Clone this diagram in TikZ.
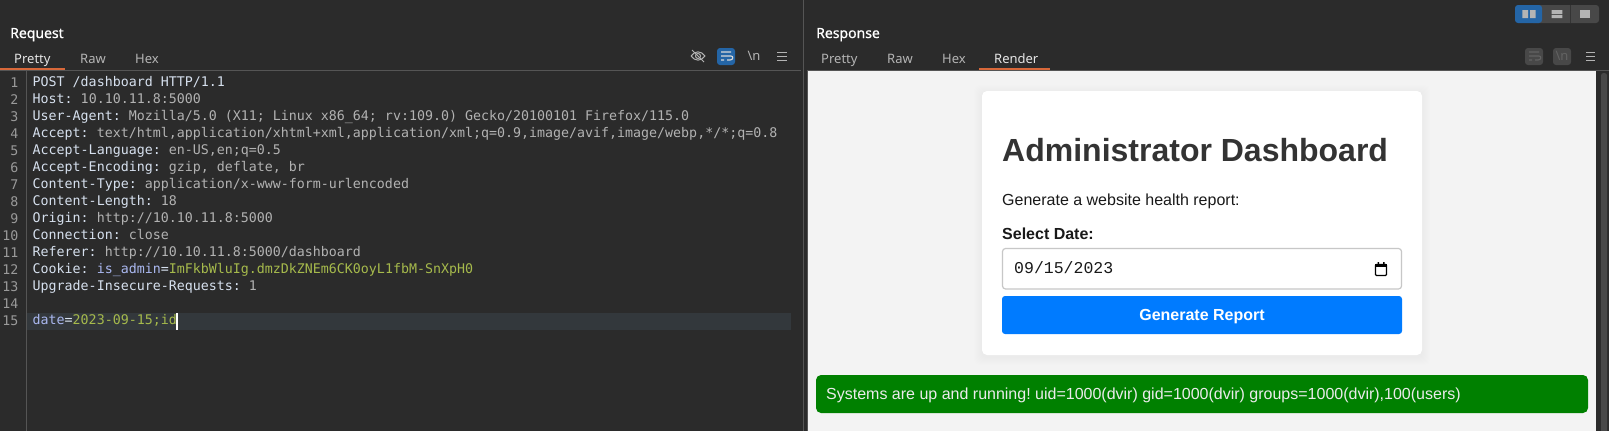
\documentclass[tikz,border=0pt]{standalone}
\usepackage{fontspec}
\setmainfont{Noto Sans}
\newfontfamily\titlefont{Noto Sans}[FakeBold=.6]
\newfontfamily\codefont{DejaVu Sans Mono}
\newfontfamily\pagefont{Liberation Sans}
\newfontfamily\datefont{Liberation Mono}
\newcommand{\hgap}{\kern.602em}
\frenchspacing
\definecolor{panelbg}{HTML}{2B2B2B}
\definecolor{rulegray}{HTML}{555555}
\definecolor{tabgray}{HTML}{B4B4B4}
\definecolor{tabline}{HTML}{D8683A}
\definecolor{numgray}{HTML}{9A9A9A}
\definecolor{hkey}{HTML}{D6E0EE}
\definecolor{hval}{HTML}{B2B2B2}
\definecolor{hname}{HTML}{AAB8F0}
\definecolor{hgreen}{HTML}{A6BA4C}
\definecolor{rowbg}{HTML}{33383C}
\definecolor{burpblue}{HTML}{2465A6}
\definecolor{btngray}{HTML}{484848}
\definecolor{pagebg}{HTML}{F3F3F3}
\definecolor{okgreen}{HTML}{008000}
\definecolor{btnblue}{HTML}{007BFF}
\tikzset{
  paneltitle/.style={anchor=base west,inner sep=0,text=white,font=\fontsize{14}{16}\titlefont\selectfont},
  tabtext/.style={anchor=base west,inner sep=0,text=tabgray,font=\fontsize{13}{16}\selectfont},
  codeline/.style={anchor=base west,inner sep=0,font=\fontsize{13.3}{16}\codefont\selectfont},
  codenum/.style={anchor=base east,inner sep=0,text=numgray,font=\fontsize{13.3}{16}\codefont\selectfont},
  pagetext/.style={anchor=base west,inner sep=0,text=black!90,font=\fontsize{16}{20}\pagefont\selectfont},
  iconline/.style={draw=tabgray,line width=1pt},
  iconbox/.style={rounded corners=3pt,fill=#1,draw=none}
}
\begin{document}
\begin{tikzpicture}[x=1pt,y=-1pt]
\useasboundingbox (0,0) rectangle (1609,431);
\fill[panelbg] (0,0) rectangle (1609,431);

% left pane
\node[paneltitle] (reqtitle) at (10,38) {Request};
\node[tabtext,text=white!90!black] (reqpretty) at (14,63) {Pretty};
\node[tabtext] (reqraw) at (80,63) {Raw};
\node[tabtext] (reqhex) at (135,63) {Hex};
\draw[rulegray] (0,70.5) -- (801,70.5);
\fill[tabline] (0,68) rectangle (65,70);
\draw[rulegray] (26.5,71) -- (26.5,431);
\fill[rowbg] (27,313) rectangle (791,330);

\foreach \n/\hline in {
  1/{\color{hkey}POST /dashboard HTTP/1.1},
  2/{\color{hkey}Host:\hgap\color{hval}10.10.11.8:5000},
  3/{\color{hkey}User-Agent:\hgap\color{hval}Mozilla/5.0 (X11; Linux x86\_64; rv:109.0) Gecko/20100101 Firefox/115.0},
  4/{\color{hkey}Accept:\hgap\color{hval}text/html,application/xhtml+xml,application/xml;q=0.9,image/avif,image/webp,*/*;q=0.8},
  5/{\color{hkey}Accept-Language:\hgap\color{hval}en-US,en;q=0.5},
  6/{\color{hkey}Accept-Encoding:\hgap\color{hval}gzip, deflate, br},
  7/{\color{hkey}Content-Type:\hgap\color{hval}application/x-www-form-urlencoded},
  8/{\color{hkey}Content-Length:\hgap\color{hval}18},
  9/{\color{hkey}Origin:\hgap\color{hval}http://10.10.11.8:5000},
  10/{\color{hkey}Connection:\hgap\color{hval}close},
  11/{\color{hkey}Referer:\hgap\color{hval}http://10.10.11.8:5000/dashboard},
  12/{\color{hkey}Cookie:\hgap\color{hname}is\_admin\color{hkey}=\color{hgreen}ImFkbWluIg.dmzDkZNEm6CK0oyL1fbM-SnXpH0},
  13/{\color{hkey}Upgrade-Insecure-Requests:\hgap\color{hval}1},
  14/{},
  15/{\color{hname}date\color{hkey}=\color{hgreen}2023-09-15;id}}
{
  \node[codenum] (num\n) at (18.5,{70+17*\n}) {\n};
  \node[codeline] (code\n) at (32.5,{69+17*\n}) {\hline};
}
\fill[white] (175.7,313) rectangle (177.7,330);

% left icons
\draw[iconline] (691,56) .. controls (695,50.5) and (701,50.5) .. (705,56) .. controls (701,61.5) and (695,61.5) .. (691,56);
\draw[iconline] (698,56) circle (2.5);
\draw[iconline] (692,50) -- (704,62);
\fill[burpblue,iconbox] (717,48) rectangle (735,65);
\draw[white!85!black,line width=1.1pt] (721,52) -- (731,52) (721,56) -- (731,56) .. controls (733.5,56) and (733.5,60) .. (730,60) -- (727,60) (721,60) -- (724,60);
\node[inner sep=0,text=tabgray,font=\fontsize{13}{16}\selectfont] (reqnl) at (754,55.5) {\textbackslash n};
\draw[iconline] (777,52) -- (787,52) (777,56) -- (787,56) (777,60) -- (787,60);

% right pane
\draw[rulegray,line width=1.2pt] (803.5,0) -- (803.5,431);
\node[paneltitle] (resptitle) at (816,38) {Response};
\node[tabtext] (resppretty) at (821,63) {Pretty};
\node[tabtext] (respraw) at (887,63) {Raw};
\node[tabtext] (resphex) at (942,63) {Hex};
\node[tabtext,text=white!90!black] (resprender) at (994,63) {Render};
\draw[rulegray] (807,70.5) -- (1609,70.5);
\fill[tabline] (979,68) rectangle (1050,70);
\fill[rulegray] (806.5,71) rectangle (808,431);

% layout buttons
\fill[btngray,rounded corners=3pt] (1530,5) rectangle (1599,23);
\fill[burpblue,rounded corners=3pt] (1515,5) rectangle (1542,23);
\draw[panelbg!70!btngray,line width=.6pt] (1570.5,5) -- (1570.5,23);
\fill[tabgray] (1522.3,10) rectangle (1528,18) (1530,10) rectangle (1535.7,18);
\fill[tabgray] (1551.7,10) rectangle (1562.3,14) (1551.7,15) rectangle (1562.3,18);
\fill[tabgray] (1580,10) rectangle (1590,18);

% right icons
\fill[btngray,iconbox] (1525,48) rectangle (1543,65);
\draw[black!45!tabgray,line width=1.1pt] (1529,52) -- (1539,52) (1529,56) -- (1539,56) .. controls (1541.5,56) and (1541.5,60) .. (1538,60) -- (1535,60) (1529,60) -- (1532,60);
\fill[btngray,iconbox] (1553,48) rectangle (1571,65);
\node[inner sep=0,text=black!45!tabgray,font=\fontsize{13}{16}\selectfont] (respnl) at (1562,55.5) {\textbackslash n};
\draw[iconline] (1586,52) -- (1595,52) (1586,56) -- (1595,56) (1586,60) -- (1595,60);

% rendered page
\fill[pagebg] (808,71) rectangle (1596,431);
\fill[panelbg] (1596,71) rectangle (1609,431);
\fill[btngray,rounded corners=2.5pt] (1601,73) rectangle (1607,440);

\foreach \s in {1,...,8}
  \fill[black,opacity=.005,rounded corners=5pt] ({982-\s},{91-\s+2}) rectangle ({1422+\s},{355+\s+2});
\fill[white,rounded corners=5pt] (982,91) rectangle (1422,355);

\node[pagetext,font=\fontsize{32}{38}\pagefont\bfseries\selectfont,text=black!80] (dashtitle) at (1002,161) {Administrator Dashboard};
\node[pagetext] (healthtext) at (1002,205) {Generate a website health report:};
\node[pagetext,font=\fontsize{16}{20}\pagefont\bfseries\selectfont] (datelabel) at (1002,239) {Select Date:};

\draw[black!22,line width=1.2pt,fill=white,rounded corners=3pt] (1002.5,248.5) rectangle (1401.5,289);
\node[pagetext,font=\fontsize{16.5}{20}\datefont\selectfont] (datevalue) at (1014,273) {09/15/2023};
\draw[black,line width=1.2pt,rounded corners=1pt] (1375.5,264.5) rectangle (1386.5,275.5);
\fill[black] (1375,263.5) rectangle (1387,267);
\fill[black] (1377.5,262) rectangle (1379,264) (1383,262) rectangle (1384.5,264);

\fill[btnblue,rounded corners=3pt] (1002,296) rectangle (1402,334);
\node[inner sep=0,anchor=base,text=white,font=\fontsize{16}{20}\pagefont\bfseries\selectfont] (genreport) at (1202,320) {Generate Report};

\fill[okgreen,rounded corners=5pt] (816,375) rectangle (1588,413);
\node[pagetext,text=white!92!black] (statustext) at (826,399) {Systems are up and running! uid=1000(dvir) gid=1000(dvir) groups=1000(dvir),100(users)};

\end{tikzpicture}
\end{document}
